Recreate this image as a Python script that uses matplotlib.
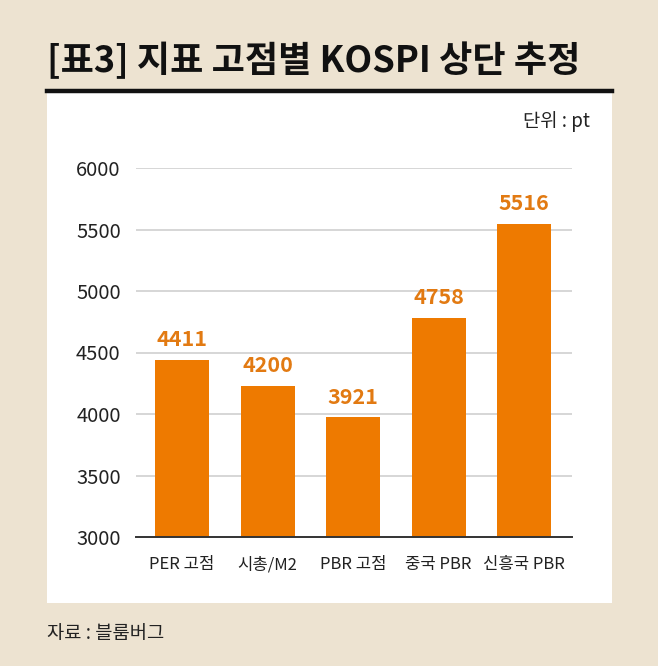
import matplotlib
matplotlib.use("Agg")
import matplotlib.pyplot as plt
from matplotlib.patches import Rectangle
from matplotlib.lines import Line2D

# dados
categorias = ["PER 고점", "시총/M2", "PBR 고점", "중국 PBR", "신흥국 PBR"]
rotulos = ["4411", "4200", "3921", "4758", "5516"]
alturas = [4441, 4228, 3973, 4780, 5546]  # altura das barras
yticks = [3000, 3500, 4000, 4500, 5000, 5500, 6000]

FUNDO = "#EDE3D1"
LARANJA = "#EE7A00"
LARANJA_TXT = "#E27A12"
KR = ["Noto Sans CJK KR", "DejaVu Sans"]

fig = plt.figure(figsize=(6.58, 6.66), dpi=100)
fig.patch.set_facecolor(FUNDO)

W, H = 658, 666

# painel branco + linha preta
fig.patches.append(Rectangle((47 / W, 1 - 603 / H), (612 - 47) / W, (603 - 93) / H,
                             transform=fig.transFigure, facecolor="white",
                             edgecolor="none", zorder=-10))
fig.lines.append(Line2D([47 / W, 612 / W], [1 - 91 / H, 1 - 91 / H],
                        transform=fig.transFigure, color="#111111", lw=3.2, zorder=-5))

fig.text(47 / W, 1 - 61 / H, "[표3] 지표 고점별 KOSPI 상단 추정", family=KR,
         fontsize=26, fontweight=900, color="#111111", va="center", ha="left")
fig.text(590 / W, 1 - 122 / H, "단위 : pt", family=KR, fontsize=13.5,
         color="#222222", va="center", ha="right")
fig.text(47 / W, 1 - 633 / H, "자료 : 블룸버그", family=KR, fontsize=13.5,
         color="#222222", va="center", ha="left")

ax = fig.add_axes([136 / W, 1 - 537 / H, (572 - 136) / W, (537 - 168) / H])
ax.set_facecolor("none")
ax.set_zorder(5)

x = range(len(categorias))
barras = ax.bar(x, alturas, width=0.63, color=LARANJA, zorder=3)
for b, txt in zip(barras, rotulos):
    ax.annotate(txt, (b.get_x() + b.get_width() / 2, b.get_height()),
                xytext=(0, 7), textcoords="offset points", ha="center", va="bottom",
                family=KR, fontsize=15.5, fontweight="bold", color=LARANJA_TXT)

ax.set_ylim(3000, 6000)
ax.set_xlim(-0.54, 4.56)
ax.set_yticks(yticks)
ax.set_yticklabels([str(t) for t in yticks], family=KR, fontsize=14.5, color="#222222")
ax.set_xticks(list(x))
ax.set_xticklabels(categorias, family=KR, fontsize=12, color="#222222")
ax.tick_params(axis="both", length=0)
ax.tick_params(axis="y", pad=11)
ax.tick_params(axis="x", pad=14)

for t in yticks[1:]:
    ax.axhline(t, color="#CFCFCF", lw=1.2, zorder=1)
ax.axhline(3000, color="#333333", lw=1.4, zorder=4, clip_on=False)

for s in ax.spines.values():
    s.set_visible(False)

fig.savefig("out.png", dpi=100, facecolor=FUNDO)
